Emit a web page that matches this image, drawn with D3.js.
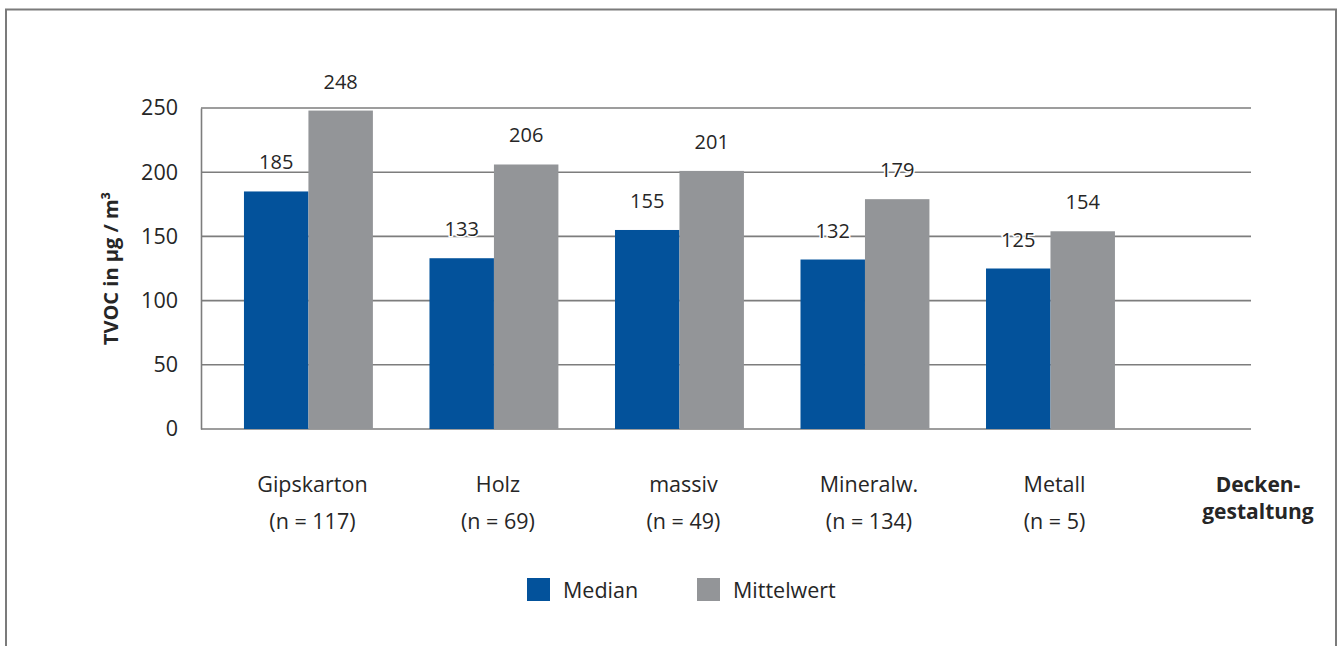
<!DOCTYPE html>
<html>
<head>
<meta charset="utf-8">
<script src="https://cdn.jsdelivr.net/npm/d3@7"></script>
<style>
  html, body { margin: 0; padding: 0; background: #ffffff; }
  svg { display: block; }
  text { font-family: "Open Sans", "Noto Sans", sans-serif; fill: #262626; }
</style>
</head>
<body>
<svg id="chart" width="1340" height="646"></svg>
<script>
// Ceiling construction types and their sample sizes
const categories = ["Gipskarton", "Holz", "massiv", "Mineralw.", "Metall"];
const sampleSizes = ["(n = 117)", "(n = 69)", "(n = 49)", "(n = 134)", "(n = 5)"];

// TVOC concentration in µg/m³
const seriesNames = ["Median", "Mittelwert"];
const medianValues = [185, 133, 155, 132, 125];
const meanValues = [248, 206, 201, 179, 154];

const yTicks = [0, 50, 100, 150, 200, 250];
const yTitle = "TVOC in µg / m³";
const xTitle = ["Decken-", "gestaltung"];

const colors = { Median: "#03529b", Mittelwert: "#939598" };
const gridColor = "#7d7d7d";

const svg = d3.select("#chart");

// outer frame
svg.append("rect")
  .attr("x", 6).attr("y", 9.5)
  .attr("width", 1330).attr("height", 700)
  .attr("fill", "none")
  .attr("stroke", "#7b7b7b")
  .attr("stroke-width", 2);

const plot = { left: 201, right: 1251, top: 108, bottom: 429 };

const y = d3.scaleLinear().domain([0, 250]).range([plot.bottom, plot.top]);

const x = d3.scaleBand()
  .domain(categories)
  .range([plot.left, plot.right])
  .paddingInner(0.305)
  .paddingOuter(0.4825)
  .align(0.24);

const xInner = d3.scaleBand()
  .domain(seriesNames)
  .range([0, x.bandwidth()]);

const rows = categories.map((c, i) => ({
  category: c,
  n: sampleSizes[i],
  values: [
    { series: "Median", value: medianValues[i] },
    { series: "Mittelwert", value: meanValues[i] }
  ]
}));

// horizontal gridlines
svg.append("g")
  .selectAll("line")
  .data(yTicks)
  .join("line")
  .attr("x1", plot.left).attr("x2", plot.right)
  .attr("y1", d => y(d)).attr("y2", d => y(d))
  .attr("stroke", gridColor)
  .attr("stroke-width", 1.6);

// y axis
const yAxis = svg.append("g")
  .attr("transform", `translate(${plot.left},0)`)
  .call(d3.axisLeft(y).tickValues(yTicks).tickSize(0).tickPadding(23));
yAxis.select(".domain").attr("stroke", gridColor).attr("stroke-width", 1.6);
yAxis.selectAll("text")
  .attr("font-size", 21.5)
  .attr("fill", "#262626")
  .style("font-family", "'Open Sans', 'Noto Sans', sans-serif");

svg.append("text")
  .attr("transform", `translate(118,${(plot.top + plot.bottom) / 2}) rotate(-90)`)
  .attr("text-anchor", "middle")
  .attr("font-size", 20)
  .attr("font-weight", "bold")
  .text(yTitle);

// bars
const groups = svg.append("g")
  .selectAll("g")
  .data(rows)
  .join("g")
  .attr("transform", d => `translate(${x(d.category)},0)`);

groups.selectAll("rect")
  .data(d => d.values)
  .join("rect")
  .attr("x", d => xInner(d.series))
  .attr("width", xInner.bandwidth())
  .attr("y", d => y(d.value))
  .attr("height", d => y(0) - y(d.value))
  .attr("fill", d => colors[d.series]);

// value labels
groups.selectAll("text.value")
  .data(d => d.values)
  .join("text")
  .attr("class", "value")
  .attr("x", d => xInner(d.series) + xInner.bandwidth() / 2)
  .attr("y", d => y(d.value) - 22)
  .attr("text-anchor", "middle")
  .attr("font-size", 20)
  .attr("stroke", "#ffffff")
  .attr("stroke-width", 3)
  .attr("paint-order", "stroke")
  .text(d => d.value);

// category labels
const catLabels = svg.append("g")
  .selectAll("g")
  .data(rows)
  .join("g")
  .attr("transform", d => `translate(${x(d.category) + x.bandwidth() / 2 + 4},0)`);

catLabels.append("text")
  .attr("y", 492)
  .attr("text-anchor", "middle")
  .attr("font-size", 21.5)
  .text(d => d.category);

catLabels.append("text")
  .attr("y", 529)
  .attr("text-anchor", "middle")
  .attr("font-size", 21.5)
  .text(d => d.n);

// x axis title
svg.append("text")
  .attr("x", 1258)
  .attr("text-anchor", "middle")
  .attr("font-size", 21)
  .attr("font-weight", "bold")
  .selectAll("tspan")
  .data(xTitle)
  .join("tspan")
  .attr("x", 1258)
  .attr("y", (d, i) => 492 + i * 27)
  .text(d => d);

// legend
const legend = svg.append("g")
  .selectAll("g")
  .data(seriesNames)
  .join("g")
  .attr("transform", (d, i) => `translate(${527 + i * 170},578)`);

legend.append("rect")
  .attr("width", 23).attr("height", 23)
  .attr("fill", d => colors[d]);

legend.append("text")
  .attr("x", 36)
  .attr("y", 20)
  .attr("font-size", 21.5)
  .text(d => d);
</script>
</body>
</html>
